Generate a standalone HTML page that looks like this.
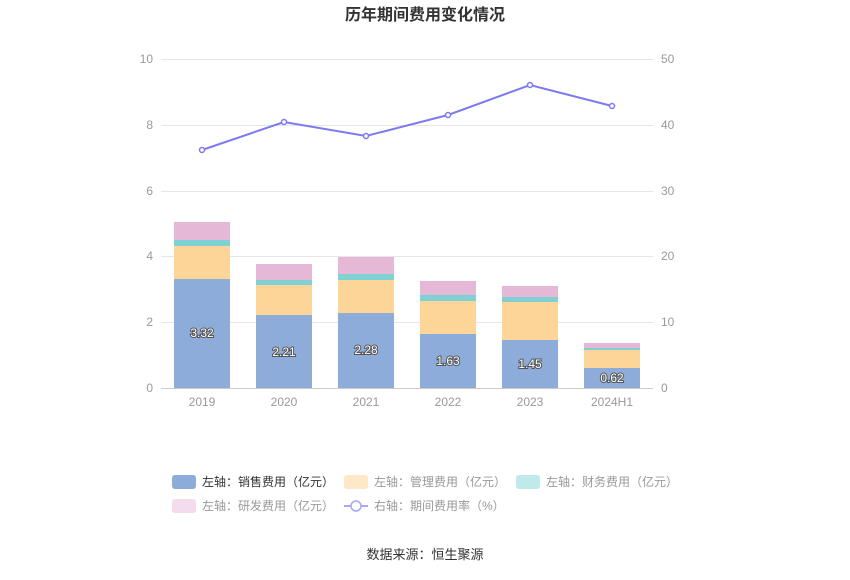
<!DOCTYPE html>
<html><head><meta charset="utf-8"><style>
body{margin:0;background:#fff;width:850px;height:575px;overflow:hidden}
text{font-family:"Liberation Sans","Noto Sans CJK SC",sans-serif}
</style></head><body>
<svg width="850" height="575" xmlns="http://www.w3.org/2000/svg">
<text x="425" y="20" text-anchor="middle" font-size="16" font-weight="bold" fill="#333">历年期间费用变化情况</text>
<g stroke="#e6e6e6" stroke-width="1">
<line x1="161" x2="653" y1="59.5" y2="59.5"/><line x1="161" x2="653" y1="125.5" y2="125.5"/>
<line x1="161" x2="653" y1="191.5" y2="191.5"/><line x1="161" x2="653" y1="256.5" y2="256.5"/>
<line x1="161" x2="653" y1="322.5" y2="322.5"/>
</g>
<line x1="161" x2="653" y1="388.5" y2="388.5" stroke="#ccc"/>
<g font-size="12" fill="#999" text-anchor="end">
<text x="153" y="63">10</text><text x="153" y="129">8</text><text x="153" y="195">6</text><text x="153" y="260">4</text><text x="153" y="326">2</text><text x="153" y="392">0</text>
</g>
<g font-size="12" fill="#999">
<text x="661" y="63">50</text><text x="661" y="129">40</text><text x="661" y="195">30</text><text x="661" y="260">20</text><text x="661" y="326">10</text><text x="661" y="392">0</text>
</g>
<g font-size="12" fill="#999" text-anchor="middle">
<text x="202" y="406">2019</text><text x="284" y="406">2020</text><text x="366" y="406">2021</text><text x="448" y="406">2022</text><text x="530" y="406">2023</text><text x="612" y="406">2024H1</text>
</g>
<g>
<!-- 2019 -->
<rect x="174" y="279" width="56" height="109" fill="#8eacd9"/><rect x="174" y="246" width="56" height="33" fill="#fdd598"/><rect x="174" y="240" width="56" height="6" fill="#7fd1d3"/><rect x="174" y="222" width="56" height="18" fill="#e5b8d8"/>
<!-- 2020 -->
<rect x="256" y="315" width="56" height="73" fill="#8eacd9"/><rect x="256" y="285" width="56" height="30" fill="#fdd598"/><rect x="256" y="280" width="56" height="5" fill="#7fd1d3"/><rect x="256" y="264" width="56" height="16" fill="#e5b8d8"/>
<!-- 2021 -->
<rect x="338" y="313" width="56" height="75" fill="#8eacd9"/><rect x="338" y="280" width="56" height="33" fill="#fdd598"/><rect x="338" y="274" width="56" height="6" fill="#7fd1d3"/><rect x="338" y="257" width="56" height="17" fill="#e5b8d8"/>
<!-- 2022 -->
<rect x="420" y="334" width="56" height="54" fill="#8eacd9"/><rect x="420" y="301" width="56" height="33" fill="#fdd598"/><rect x="420" y="295" width="56" height="6" fill="#7fd1d3"/><rect x="420" y="281" width="56" height="14" fill="#e5b8d8"/>
<!-- 2023 -->
<rect x="502" y="340" width="56" height="48" fill="#8eacd9"/><rect x="502" y="302" width="56" height="38" fill="#fdd598"/><rect x="502" y="297" width="56" height="5" fill="#7fd1d3"/><rect x="502" y="286" width="56" height="11" fill="#e5b8d8"/>
<!-- 2024H1 -->
<rect x="584" y="368" width="56" height="20" fill="#8eacd9"/><rect x="584" y="350" width="56" height="18" fill="#fdd598"/><rect x="584" y="348" width="56" height="2" fill="#7fd1d3"/><rect x="584" y="343" width="56" height="5" fill="#e5b8d8"/>
</g>
<g font-size="12" fill="#fff" text-anchor="middle" stroke="#555" stroke-width="2" paint-order="stroke">
<text x="202" y="337">3.32</text><text x="284" y="356">2.21</text><text x="366" y="354">2.28</text><text x="448" y="365">1.63</text><text x="530" y="368">1.45</text><text x="612" y="382">0.62</text>
</g>
<polyline points="202,150 284,122 366,136 448,115 530,85 612,106" fill="none" stroke="#7b7bef" stroke-width="2"/>
<g fill="#fff" stroke="#7b7bef" stroke-width="1.5">
<circle cx="202" cy="150" r="2.5"/><circle cx="284" cy="122" r="2.5"/><circle cx="366" cy="136" r="2.5"/><circle cx="448" cy="115" r="2.5"/><circle cx="530" cy="85" r="2.5"/><circle cx="612" cy="106" r="2.5"/>
</g>
<g font-size="12">
<rect x="172" y="475" width="24" height="14" rx="3" fill="#8eacd9"/><text x="202" y="486" fill="#333">左轴：销售费用（亿元）</text>
<rect x="344" y="475" width="24" height="14" rx="3" fill="#fee8c7"/><text x="374" y="486" fill="#999">左轴：管理费用（亿元）</text>
<rect x="516" y="475" width="24" height="14" rx="3" fill="#c0e9ea"/><text x="546" y="486" fill="#999">左轴：财务费用（亿元）</text>
<rect x="172" y="499" width="24" height="14" rx="3" fill="#f3dcec"/><text x="202" y="510" fill="#999">左轴：研发费用（亿元）</text>
<line x1="344" x2="368" y1="506" y2="506" stroke="#a7a7f3" stroke-width="2"/><circle cx="356" cy="506" r="5" fill="#fff" stroke="#a7a7f3" stroke-width="1.5"/>
<text x="374" y="510" fill="#999">右轴：期间费用率（%）</text>
</g>
<text x="425" y="559" text-anchor="middle" font-size="13" fill="#333">数据来源：恒生聚源</text>
</svg>
</body></html>
